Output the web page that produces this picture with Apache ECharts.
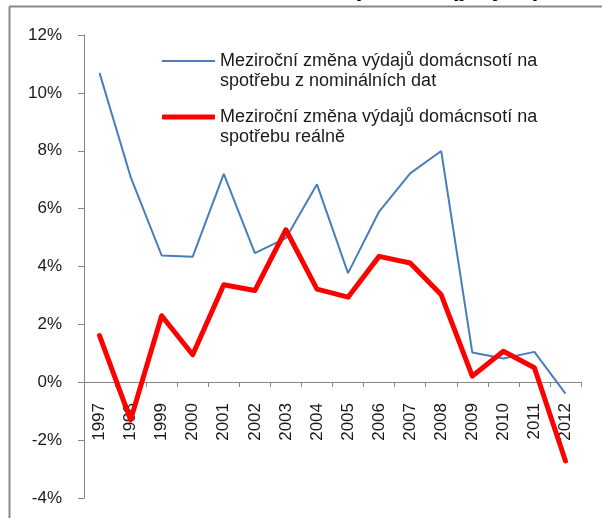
<!DOCTYPE html>
<html>
<head>
<meta charset="utf-8">
<script src="https://cdn.jsdelivr.net/npm/echarts@6/dist/echarts.min.js"></script>
<style>
html,body{margin:0;padding:0;background:#fff;}
#c{width:602px;height:518px;}
</style>
</head>
<body>
<div id="c"></div>
<script>
var years = ['1997','1998','1999','2000','2001','2002','2003','2004','2005','2006','2007','2008','2009','2010','2011','2012'];
var nominal = [10.69, 7.10, 4.38, 4.34, 7.20, 4.46, 4.98, 6.84, 3.77, 5.90, 7.22, 7.99, 1.03, 0.82, 1.05, -0.39];
var real = [1.61, -1.30, 2.30, 0.95, 3.37, 3.17, 5.27, 3.22, 2.94, 4.35, 4.12, 3.02, 0.21, 1.07, 0.50, -2.72];
var nameNominal = 'Meziroční změna výdajů domácnsotí na spotřebu z nominálních dat';
var nameReal = 'Meziroční změna výdajů domácnsotí na spotřebu reálně';
var legendLines = {};
legendLines[nameNominal] = ['Meziroční změna výdajů domácnsotí na', 'spotřebu z nominálních dat'];
legendLines[nameReal] = ['Meziroční změna výdajů domácnsotí na', 'spotřebu reálně'];
var titleText = 'Domácí spotřeba (y / y %)';

var FONT = '"Liberation Sans", Arial, sans-serif';
var AX = '#868686';
var LH = 20.5;
var chart = echarts.init(document.getElementById('c'), null, {renderer: 'canvas'});

function legendCfg(name, iconCenter, icon, h, color) {
  return {
    show: true,
    data: [{name: name, icon: icon, itemStyle: {color: color, borderWidth: 0}}],
    left: 162,
    top: iconCenter - 1.5 * LH,
    padding: 0,
    itemWidth: 53,
    itemHeight: h,
    itemGap: 5,
    selectedMode: false,
    formatter: function (n) { return '\n' + legendLines[n].join('\n'); },
    textStyle: {fontFamily: FONT, fontSize: 18, color: '#1a1a1a', lineHeight: LH}
  };
}

chart.setOption({
  animation: false,
  backgroundColor: '#ffffff',
  grid: {left: 84, right: 21, top: 35, bottom: 20, containLabel: false, outerBoundsMode: 'none'},
  legend: [legendCfg(nameNominal, 61, 'rect', 2, '#4A7EBB'), legendCfg(nameReal, 117, 'roundRect', 5, '#FF0000')],
  xAxis: {
    type: 'category',
    data: years,
    boundaryGap: true,
    position: 'bottom',
    offset: -116,
    axisLine: {show: true, onZero: false, lineStyle: {color: AX, width: 1}},
    axisTick: {show: true, inside: false, length: 5, alignWithLabel: false, lineStyle: {color: AX}},
    axisLabel: {show: true, rotate: 90, margin: 21, interval: 0, hideOverlap: false, fontFamily: FONT, fontSize: 17, color: '#1a1a1a'},
    splitLine: {show: false}
  },
  yAxis: {
    type: 'value',
    min: -4, max: 12, interval: 2,
    axisLine: {show: true, lineStyle: {color: AX, width: 1}},
    axisTick: {show: true, inside: false, length: 6, lineStyle: {color: AX}},
    axisLabel: {margin: 22, fontFamily: FONT, fontSize: 17, color: '#1a1a1a',
      formatter: function (v) { return v + '%'; }},
    splitLine: {show: false}
  },
  series: [
    {
      name: nameNominal, type: 'line', data: nominal, symbol: 'none', smooth: false,
      lineStyle: {color: '#4A7EBB', width: 2}, itemStyle: {color: '#4A7EBB'}, z: 2
    },
    {
      name: nameReal, type: 'line', data: real, symbol: 'none', smooth: false,
      lineStyle: {color: '#FF0000', width: 5, cap: 'round', join: 'round'}, itemStyle: {color: '#FF0000'}, z: 3
    }
  ],
  graphic: [
    {type: 'line', shape: {x1: 9, y1: 6.5, x2: 602, y2: 6.5}, style: {stroke: '#8a8a8a', lineWidth: 2}, z: 10},
    {type: 'line', shape: {x1: 9.5, y1: 6.5, x2: 9.5, y2: 518}, style: {stroke: '#8a8a8a', lineWidth: 2}, z: 10},
    {type: 'text', x: 541, y: 1, style: {text: titleText, font: 'bold 24px ' + FONT, fill: '#000', align: 'right', verticalAlign: 'bottom'}, z: 9}
  ]
});
</script>
</body>
</html>
